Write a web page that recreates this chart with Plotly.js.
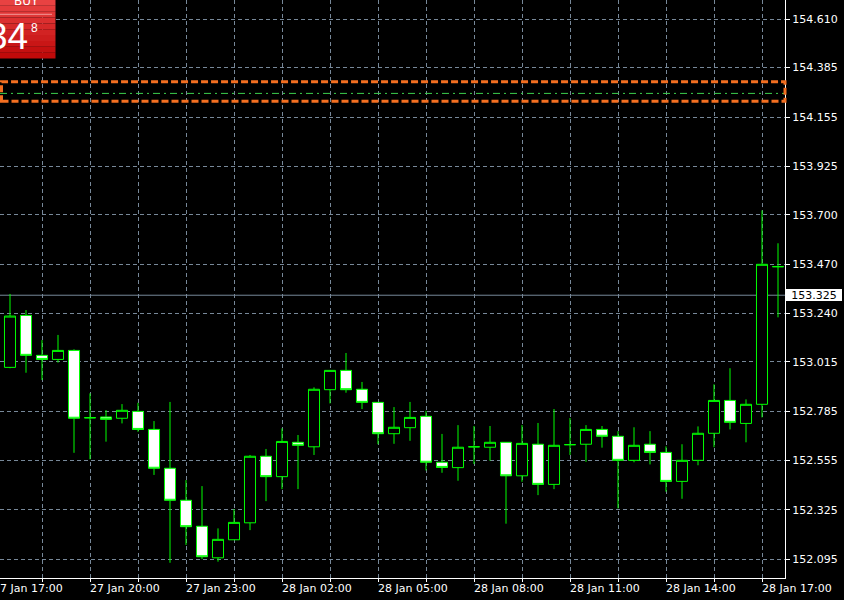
<!DOCTYPE html>
<html><head><meta charset="utf-8">
<script src="https://cdn.plot.ly/plotly-3.0.1.min.js"></script>
<style>html,body{margin:0;padding:0;background:#000;}#chart{width:844px;height:600px;}</style>
</head><body><div id="chart"></div>
<script>
// ---- data (USDJPY M30) ----
const times = [
 '2025-01-27 17:30','2025-01-27 18:00','2025-01-27 18:30','2025-01-27 19:00','2025-01-27 19:30',
 '2025-01-27 20:00','2025-01-27 20:30','2025-01-27 21:00','2025-01-27 21:30','2025-01-27 22:00',
 '2025-01-27 22:30','2025-01-27 23:00','2025-01-27 23:30','2025-01-28 00:00','2025-01-28 00:30',
 '2025-01-28 01:00','2025-01-28 01:30','2025-01-28 02:00','2025-01-28 02:30','2025-01-28 03:00',
 '2025-01-28 03:30','2025-01-28 04:00','2025-01-28 04:30','2025-01-28 05:00','2025-01-28 05:30',
 '2025-01-28 06:00','2025-01-28 06:30','2025-01-28 07:00','2025-01-28 07:30','2025-01-28 08:00',
 '2025-01-28 08:30','2025-01-28 09:00','2025-01-28 09:30','2025-01-28 10:00','2025-01-28 10:30',
 '2025-01-28 11:00','2025-01-28 11:30','2025-01-28 12:00','2025-01-28 12:30','2025-01-28 13:00',
 '2025-01-28 13:30','2025-01-28 14:00','2025-01-28 14:30','2025-01-28 15:00','2025-01-28 15:30',
 '2025-01-28 16:00','2025-01-28 16:30','2025-01-28 17:00','2025-01-28 17:30'
];
const openP = [
 152.989,153.231,153.045,153.026,153.068,152.755,152.758,152.752,152.784,152.700,
 152.519,152.370,152.249,152.102,152.186,152.265,152.575,152.480,152.640,152.619,
 152.885,152.975,152.887,152.826,152.680,152.708,152.761,152.547,152.522,152.619,
 152.617,152.640,152.484,152.631,152.444,152.629,152.631,152.700,152.668,152.556,
 152.631,152.593,152.458,152.556,152.682,152.835,152.728,152.817,153.458
];
const highP = [
 153.331,153.256,153.116,153.140,153.073,152.868,152.790,152.818,152.824,152.739,
 152.828,152.464,152.436,152.239,152.329,152.581,152.609,152.705,152.674,152.896,
 152.977,153.056,152.921,152.826,152.804,152.828,152.787,152.679,152.720,152.716,
 152.716,152.640,152.720,152.730,152.795,152.753,152.720,152.716,152.692,152.710,
 152.692,152.621,152.631,152.714,152.910,152.985,152.840,153.720,153.567
];
const lowP = [
 152.985,152.964,152.930,153.011,152.591,152.561,152.643,152.728,152.689,152.488,
 152.079,152.162,152.096,152.084,152.186,152.231,152.366,152.422,152.422,152.581,
 152.821,152.871,152.795,152.631,152.633,152.647,152.509,152.498,152.461,152.539,
 152.554,152.261,152.456,152.394,152.422,152.581,152.549,152.615,152.332,152.547,
 152.537,152.410,152.377,152.533,152.617,152.700,152.640,152.756,153.222
];
const closeP = [
 153.228,153.045,153.026,153.068,152.752,152.754,152.747,152.789,152.700,152.519,
 152.370,152.247,152.107,152.188,152.267,152.575,152.480,152.644,152.626,152.887,
 152.975,152.885,152.826,152.680,152.710,152.756,152.547,152.523,152.617,152.619,
 152.640,152.484,152.635,152.444,152.626,152.629,152.700,152.668,152.556,152.626,
 152.593,152.458,152.556,152.682,152.835,152.733,152.817,153.469,153.458
];
const priceTicks = [154.610,154.385,154.155,153.925,153.700,153.470,153.240,153.015,152.785,152.555,152.325,152.095];
const priceTickText = ['154.610','154.385','154.155','153.925','153.700','153.470','153.240','153.015','152.785','152.555','152.325','152.095'];
const timeLabelTimes = ['2025-01-27 20:00','2025-01-27 23:00','2025-01-28 02:00','2025-01-28 05:00','2025-01-28 08:00','2025-01-28 11:00','2025-01-28 14:00','2025-01-28 17:00'];
const timeLabelText = ['27 Jan 20:00','27 Jan 23:00','28 Jan 02:00','28 Jan 05:00','28 Jan 08:00','28 Jan 11:00','28 Jan 14:00','28 Jan 17:00'];
const cutTimeLabel = '27 Jan 17:00';
const bidPrice = 153.325;
const bidText = '153.325';
const levelPrice = 154.265;
const zoneTop = 154.319;
const zoneBottom = 154.228;
const buyTitle = 'BUY';
const buyBig = '34';
const buySmall = '8';

// ---- layout helpers ----
const PW = 785, PH = 578;
const px = v => v / PW;
const py = v => 1 - v / PH;
const GRID = '#778899';
const FONT = 'DejaVu Sans';

const shapes = [];
// bid line
shapes.push({type:'line', xref:'paper', yref:'y', x0:0, x1:1, y0:bidPrice, y1:bidPrice,
  line:{color:GRID, width:1}, layer:'below'});
// level line (dash-dot green)
shapes.push({type:'line', xref:'paper', yref:'y', x0:0, x1:1, y0:levelPrice, y1:levelPrice,
  line:{color:'#3ccf4e', width:1, dash:'7px,4px,2px,4px'}, layer:'above'});
// orange zone
shapes.push({type:'rect', xref:'paper', yref:'y', x0:px(1.5), x1:1, y0:zoneBottom, y1:zoneTop,
  line:{color:'#f36f21', width:3, dash:'7px,3px'}, fillcolor:'rgba(0,0,0,0)', layer:'above'});
// BUY panel (gradient bands)
const bands = 10, boxH = 58.5, boxW = 55.5;
const cTop = [232,66,66], cBot = [192,10,10];
for (let i = 0; i < bands; i++) {
  const t = i / (bands - 1);
  const c = cTop.map((a, j) => Math.round(a + (cBot[j] - a) * t));
  shapes.push({type:'rect', xref:'paper', yref:'paper', x0:px(0), x1:px(boxW),
    y0:py(boxH * (i + 1) / bands), y1:py(boxH * i / bands),
    line:{width:0}, fillcolor:`rgb(${c.join(',')})`, layer:'above'});
}
shapes.push({type:'line', xref:'paper', yref:'paper', x0:px(0), x1:px(52), y0:py(14.3), y1:py(14.3),
  line:{color:'#f29a9a', width:1}, layer:'above'});

const annotations = [];
timeLabelTimes.forEach((t, i) => annotations.push({
  xref:'x', yref:'paper', x:t, y:0, xanchor:'left', yanchor:'top', xshift:-2, yshift:-2,
  text:timeLabelText[i], showarrow:false, font:{family:FONT, size:11, color:'#ffffff'}
}));
annotations.push({xref:'paper', yref:'paper', x:0, y:0, xanchor:'left', yanchor:'top', xshift:-9, yshift:-2,
  text:cutTimeLabel, showarrow:false, font:{family:FONT, size:11, color:'#ffffff'}});
annotations.push({xref:'paper', yref:'y', x:1, y:bidPrice, xanchor:'left', yanchor:'middle', xshift:1,
  text:bidText, showarrow:false, bgcolor:'#ffffff', borderpad:0, borderwidth:0, width:56, height:12,
  font:{family:FONT, size:11, color:'#000000'}});
annotations.push({xref:'paper', yref:'paper', x:px(26), y:py(1), xanchor:'center', yanchor:'middle',
  text:buyTitle, showarrow:false, borderpad:0, borderwidth:0, font:{family:'DejaVu Sans', size:12, color:'#ffffff'}});
annotations.push({xref:'paper', yref:'paper', x:px(28), y:py(37), xanchor:'right', yanchor:'middle',
  text:buyBig, showarrow:false, borderpad:0, borderwidth:0, font:{family:'Liberation Sans', size:37, color:'#ffffff'}});
annotations.push({xref:'paper', yref:'paper', x:px(34), y:py(28), xanchor:'center', yanchor:'middle',
  text:buySmall, showarrow:false, borderpad:0, borderwidth:0, font:{family:'Liberation Sans', size:12, color:'#ffffff'}});

const trace = {
  type:'candlestick', x:times, open:openP, high:highP, low:lowP, close:closeP,
  increasing:{line:{color:'#00ff00', width:1}, fillcolor:'#000000'},
  decreasing:{line:{color:'#00ff00', width:1}, fillcolor:'#ffffff'},
  whiskerwidth:0, hoverinfo:'skip', showlegend:false
};

const layout = {
  width:844, height:600,
  margin:{l:0, r:59, t:0, b:22, pad:0},
  paper_bgcolor:'#000000', plot_bgcolor:'#000000',
  showlegend:false, hovermode:false,
  boxgap:0.31, boxgroupgap:0,
  xaxis:{type:'date', range:['2025-01-27 17:11:15','2025-01-28 17:43:07.5'],
    rangeslider:{visible:false}, tick0:'2025-01-27 17:00', dtick:5400000,
    showgrid:true, gridcolor:GRID, griddash:'4px,3px', gridwidth:1,
    ticks:'outside', ticklen:3, tickcolor:'#ffffff', tickwidth:1, showticklabels:false,
    showline:true, linecolor:'#ffffff', linewidth:1, zeroline:false, fixedrange:true},
  yaxis:{side:'right', range:[152.008, 154.700], tickmode:'array', tickvals:priceTicks, ticktext:priceTickText,
    showgrid:true, gridcolor:GRID, griddash:'4px,3px', gridwidth:1,
    ticks:'outside', ticklen:4, tickcolor:'#ffffff', tickwidth:1,
    tickfont:{family:FONT, size:11, color:'#ffffff'},
    showline:true, linecolor:'#ffffff', linewidth:1, zeroline:false, fixedrange:true},
  shapes:shapes, annotations:annotations
};

Plotly.newPlot('chart', [trace], layout, {staticPlot:true, displayModeBar:false});
</script></body></html>
